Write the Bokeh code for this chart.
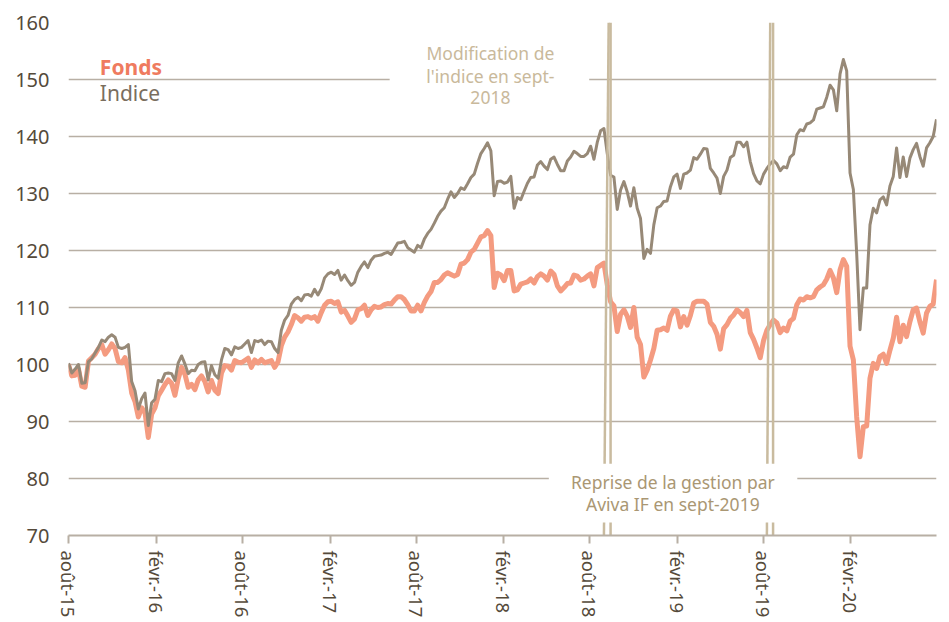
import pandas as pd
from bokeh.plotting import figure
from bokeh.models import Range1d, FixedTicker, Label, BoxAnnotation
from bokeh.embed import file_html
from bokeh.resources import INLINE

# ---------------- data (weekly) ----------------
dates = pd.date_range("2015-07-31", periods=262, freq="7D")

indice = [
    100.2, 98.5, 99.2, 100, 96.7, 96.8, 100.5, 101, 102, 103,
    104.3, 104, 104.8, 105.2, 104.8, 103, 102.8, 103, 103.5, 97,
    95.4, 92.2, 94, 95, 89.3, 93.3, 93.9, 97.2, 97, 98.4,
    98.5, 98.4, 97.2, 100.3, 101.5, 100.1, 98.4, 99, 98.9, 100,
    100.4, 100.5, 97.3, 99.8, 98.2, 97.6, 100.8, 102.8, 102.6, 101.7,
    103.1, 102.8, 103, 103.6, 104.2, 102.1, 104.2, 104, 104.3, 103.5,
    104.1, 104, 102.8, 102.1, 106, 107.8, 108.6, 110.6, 111.4, 111.8,
    111.2, 112.2, 112.3, 112, 113.2, 112.2,
    113.3, 115.2, 115.9, 116.2, 115.8, 116.5, 114.8, 115.7, 114.7, 113.9,
    114.4, 116.2, 117.2, 118, 117, 118.3, 119, 119.1, 119.2, 119.5,
    119.7, 119.3, 120.3, 121.3, 121.4, 121.6, 120.5, 120.1, 119.7, 120.9,
    120.5, 122, 123, 123.7, 124.8, 126, 126.9, 127.5, 129, 130.3,
    129.3, 130, 131, 130.7, 131.7, 132.8, 133.4, 135.3, 137, 137.9,
    138.9, 137.5, 129.6, 132.1, 132.2, 131.8, 132, 133, 127.4, 129.3,
    128.9, 130.4, 131.8, 132.8, 132.9, 135, 135.6, 134.8, 134.2, 136,
    136.4, 135.1, 134, 134, 135.7, 136.4, 137.4, 137, 136.5, 136.5,
    137, 138.3, 136, 139,
    141, 141.4, 137, 133.2, 132.9, 127.2, 130.6, 132.1, 130.3, 127.8,
    131, 127.4, 125.6, 118.6, 120.2, 119.5, 124.5, 127.5, 127.8, 128.6,
    128.7, 131.2, 132.9, 133.4, 130.9, 133.4, 133.6, 134.1, 136.3, 136,
    136.9, 137.9, 137.8, 134.4, 133.6, 132.7, 130, 133, 134.1, 136.3,
    136.7, 139, 139, 138.2, 139, 135.6, 133.5, 132.2, 131.7, 133.4,
    134.4, 135.2,
    135.8, 135.2, 134, 134.7, 134.5, 136.4, 136.9, 140.3, 141.2, 141,
    142.2, 142.4, 142.9, 144.8, 145, 145.2, 146.9, 149, 148.2, 144.5,
    151, 153.5, 151.5, 133.6, 130.7, 119.5, 106.1, 113.4, 113.4, 124.5,
    127.4, 126.6, 128.9, 129.4, 128, 131.3, 133, 138, 132.8, 136.4,
    133, 136.2, 137.7, 138.8, 136.5, 134.8, 138, 138.9, 140, 143,
]

fonds = [
    100, 98, 98.1, 99.2, 96.2, 96, 100.6, 101.2, 101.8, 102.8,
    103.5, 101.8, 102.6, 103.6, 102.8, 100.5, 100.3, 101.2, 99, 95,
    93.5, 90.8, 92.4, 91.6, 87.2, 91.3, 92.4, 94.5, 95.5, 96.5,
    97.3, 96.7, 94.6, 97.5, 99.5, 98.3, 96, 96.5, 95.6, 97.3,
    98, 97, 95.2, 97.2, 95.5, 94.9, 98.5, 99.8, 99.7, 99,
    100.7, 100.4, 100.3, 100.7, 101.1, 99.5, 100.8, 100.3, 100.9, 100.3,
    100.5, 100.7, 99.5, 100.5, 103.3, 104.8, 105.7, 107, 108.6, 108.2,
    107.6, 108.3, 108.4, 108.1, 108.4, 107.6,
    109.1, 110.4, 111, 111.1, 110.7, 111, 109.2, 109.5, 108.5, 107.4,
    108, 109.6, 109.8, 110.4, 108.6, 109.6, 110.2, 110, 110.1, 110.5,
    110.7, 110.6, 111.3, 111.9, 111.9, 111.4, 110.5, 109.4, 109.4, 110.4,
    109.4, 110.9, 112, 112.8, 114.4, 114.4, 114.9, 115.7, 116.1, 115.8,
    115.5, 115.8, 117.6, 117.8, 118.4, 119.7, 120.2, 121.3, 122.4, 122.6,
    123.5, 122.6, 113.5, 116, 115.7, 114.7, 116.5, 116.5, 112.9, 113.1,
    114.1, 114.3, 114.5, 115, 114.3, 115.4, 115.9, 115.5, 114.8, 116.4,
    115.8, 113.8, 112.9, 113.5, 114.2, 114.3, 115.7, 115.5, 114.8, 115,
    115.5, 115.9, 113.8, 117,
    117.4, 117.8, 114, 111, 110.3, 105.8, 108.8, 109.6, 108.5, 106.5,
    110, 104.8, 103.5, 97.8, 99, 100.8, 102.8, 106, 106.1, 106.4,
    106, 108.5, 109.6, 109.4, 106.6, 108.4, 106.9, 108.6, 110.8, 111.1,
    111.1, 111.1, 110.6, 107.4, 106.7, 105.3, 102.7, 106.3, 107, 108.1,
    108.7, 109.6, 109.1, 108.4, 109.5, 105.6, 104.4, 102.9, 101.2, 104.2,
    106, 107,
    107.8, 107.3, 105.6, 106.4, 105.9, 107.6, 108.1, 110.5, 111.5, 111.3,
    111.9, 111.7, 111.9, 113.1, 113.6, 114, 115, 116.5, 115.2, 112.6,
    116.6, 118.4, 117.2, 103.2, 100.8, 90.8, 83.8, 89.1, 89.2, 97.6,
    100.2, 99.3, 101.4, 101.8, 100.2, 102.5, 104.6, 108.3, 104, 106.9,
    104.9, 107.5, 109.6, 109.9, 107.5, 105.5, 109, 110.2, 110.6, 114.9,
]

y_ticks = [70, 80, 90, 100, 110, 120, 130, 140, 150, 160]
x_tick_dates = ["2015-08-01", "2016-02-01", "2016-08-01", "2017-02-01", "2017-08-01",
                "2018-02-01", "2018-08-01", "2019-02-01", "2019-08-01", "2020-02-01"]
x_tick_labels = ["août-15", "févr.-16", "août-16", "févr.-17", "août-17",
                 "févr.-18", "août-18", "févr.-19", "août-19", "févr.-20"]

# event markers: each drawn as two rules (top date, bottom date)
marker_top = ["2018-09-14", "2018-09-10", "2019-08-22", "2019-08-16"]
marker_bottom = ["2018-09-14", "2018-08-31", "2019-08-22", "2019-08-09"]

# ---------------- style ----------------
FONT = "Noto Sans"
GRID = "#B8AFA4"
TICK_TXT = "#554A3A"
FONDS_C = "#F49B80"
INDICE_C = "#978977"
MARK_C = "#C9BB9F"


def ms(d):
    return pd.Timestamp(d).value // 10**6


p = figure(frame_width=868, frame_height=513, x_axis_type="datetime",
           x_range=Range1d(start=ms(dates[0]), end=ms(dates[-1])),
           y_range=Range1d(start=70, end=160),
           output_backend="svg", toolbar_location=None,
           min_border_left=68, min_border_right=4, min_border_top=22,
           min_border_bottom=70)
p.outline_line_color = None
p.background_fill_color = "white"
p.border_fill_color = "white"

# axes
p.yaxis.ticker = FixedTicker(ticks=y_ticks)
p.yaxis.axis_line_color = None
p.yaxis.major_tick_line_color = None
p.yaxis.major_tick_out = 0
p.yaxis.major_tick_in = 0
p.yaxis.minor_tick_line_color = None
p.yaxis.major_label_standoff = 19
p.yaxis.major_label_text_font = FONT
p.yaxis.major_label_text_font_size = "20px"
p.yaxis.major_label_text_color = TICK_TXT

tick_ms = [ms(d) for d in x_tick_dates]
p.xaxis.ticker = FixedTicker(ticks=tick_ms)
p.xaxis.major_label_overrides = {t: lab for t, lab in zip(tick_ms, x_tick_labels)}
p.xaxis.major_label_orientation = "vertical"
p.xaxis.axis_line_color = GRID
p.xaxis.axis_line_width = 2
p.xaxis.major_tick_line_color = GRID
p.xaxis.major_tick_line_width = 2
p.xaxis.major_tick_in = 0
p.xaxis.major_tick_out = 8
p.xaxis.minor_tick_line_color = None
p.xaxis.major_label_standoff = 7
p.xaxis.major_label_text_font = FONT
p.xaxis.major_label_text_font_size = "18.5px"
p.xaxis.major_label_text_color = TICK_TXT

p.xgrid.visible = False
p.ygrid.ticker = FixedTicker(ticks=y_ticks)
p.ygrid.grid_line_color = GRID
p.ygrid.grid_line_width = 1.6

# series
p.line(dates, fonds, line_color=FONDS_C, line_width=5, line_join="round")
p.line(dates, indice, line_color=INDICE_C, line_width=3, line_join="round")

# markers
p.segment(x0=[pd.Timestamp(d) for d in marker_top], y0=[160] * 4,
          x1=[pd.Timestamp(d) for d in marker_bottom], y1=[70] * 4,
          line_color=MARK_C, line_width=2.5)

# annotation boxes
p.add_layout(BoxAnnotation(left=ms("2017-06-06"), right=ms("2018-07-31"),
                           bottom=145, top=158, fill_color="white", fill_alpha=1,
                           line_color=None))
p.add_layout(BoxAnnotation(left=ms("2018-05-07"), right=ms("2019-10-12"),
                           bottom=72.3, top=82.6, fill_color="white", fill_alpha=1,
                           line_color=None))

top_txt = ["Modification de", "l'indice en sept-", "2018"]
top_y = [154.7, 150.7, 146.9]
for t, y in zip(top_txt, top_y):
    p.add_layout(Label(x=ms("2018-01-04"), y=y, text=t, text_align="center",
                       text_baseline="alphabetic", text_font=FONT,
                       text_font_size="17.5px", text_color="#C9B99B"))

bot_txt = ["Reprise de la gestion par", "Aviva IF en sept-2019"]
bot_y = [79.3, 75.5]
for t, y in zip(bot_txt, bot_y):
    p.add_layout(Label(x=ms("2019-01-23"), y=y, text=t, text_align="center",
                       text_baseline="alphabetic", text_font=FONT,
                       text_font_size="17.5px", text_color="#AA9773"))

# legend as coloured text
p.add_layout(Label(x=ms("2015-10-05"), y=152.2, text="Fonds", text_font=FONT,
                   text_font_style="bold", text_font_size="21px",
                   text_color="#EF7B5F", text_baseline="alphabetic"))
p.add_layout(Label(x=ms("2015-10-05"), y=147.6, text="Indice", text_font=FONT,
                   text_font_size="21px", text_color="#7A6E5E",
                   text_baseline="alphabetic"))

open("out.html", "w").write(file_html(p, INLINE))
